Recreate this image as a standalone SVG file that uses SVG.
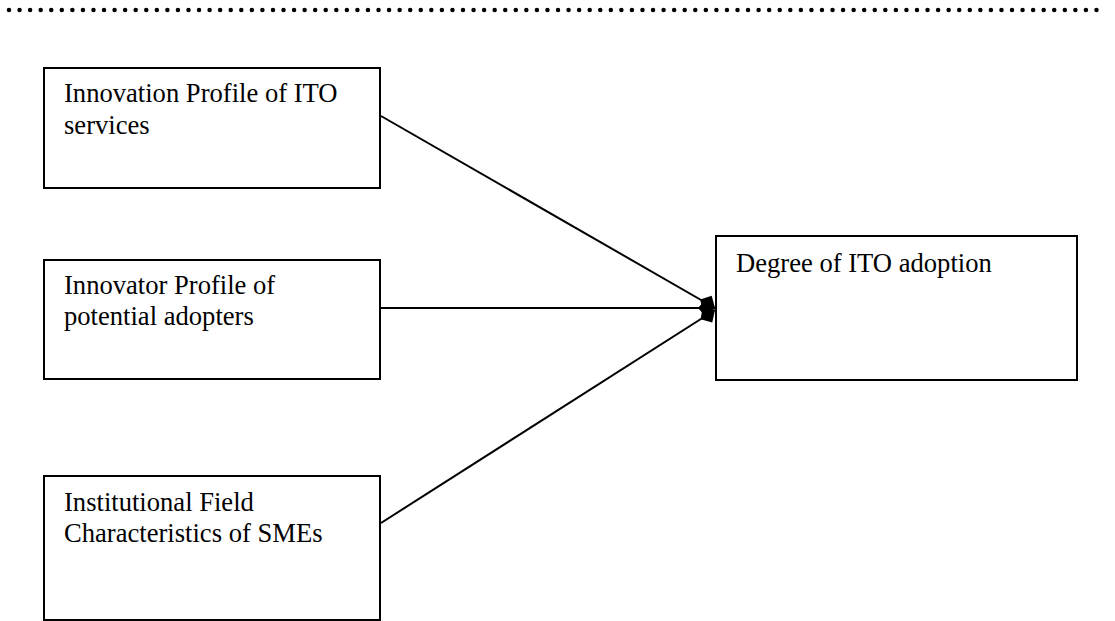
<svg xmlns="http://www.w3.org/2000/svg" width="1115" height="621" viewBox="0 0 1115 621">
<style>
.box{fill:#fff;stroke:#000;stroke-width:2}
.lbl{font-family:"Liberation Serif","Times New Roman",serif;font-size:26.6px;fill:#000}
.con{stroke:#000;stroke-width:2;fill:none}
</style>
<defs>
<marker id="dia" markerUnits="userSpaceOnUse" markerWidth="24" markerHeight="24" refX="17" refY="12" orient="auto" overflow="visible">
<path d="M0,12 L8,3 L17,12 L8,21 Z" fill="#000"/>
</marker>
</defs>
<rect width="1115" height="621" fill="#fff"/>
<line x1="9" y1="10" x2="1107" y2="10" stroke="#000" stroke-width="4.5" stroke-linecap="round" stroke-dasharray="0 10.558"/>
<g id="n1">
<rect class="box" x="44" y="68" width="336" height="120"/>
<text class="lbl" x="64" y="102">Innovation Profile of ITO</text>
<text class="lbl" x="64" y="134">services</text>
</g>
<g id="n2">
<rect class="box" x="44" y="260" width="336" height="119"/>
<text class="lbl" x="64" y="294">Innovator Profile of</text>
<text class="lbl" x="64" y="325">potential adopters</text>
</g>
<g id="n3">
<rect class="box" x="44" y="476" width="336" height="144"/>
<text class="lbl" x="64" y="511">Institutional Field</text>
<text class="lbl" x="64" y="542">Characteristics of SMEs</text>
</g>
<g id="n4">
<rect class="box" x="716" y="236" width="361" height="144"/>
<text class="lbl" x="736" y="272">Degree of ITO adoption</text>
</g>
<g id="connectors">
<line class="con" x1="381" y1="116" x2="715" y2="308" marker-end="url(#dia)"/>
<line class="con" x1="381" y1="308" x2="715" y2="308" marker-end="url(#dia)"/>
<line class="con" x1="381" y1="523" x2="715" y2="310" marker-end="url(#dia)"/>
</g>
</svg>
